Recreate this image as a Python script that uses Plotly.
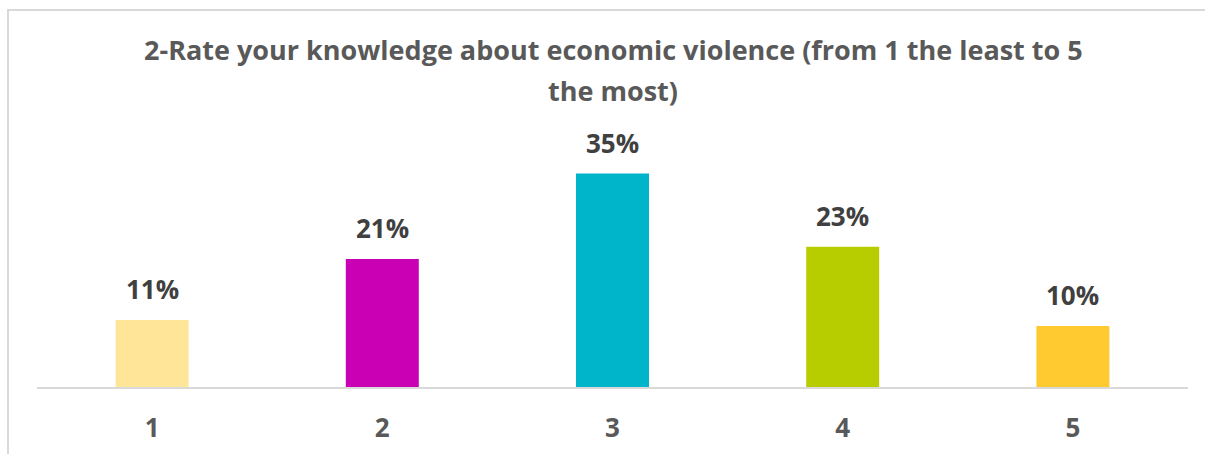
import plotly.graph_objects as go

categories = ["1", "2", "3", "4", "5"]
values = [11, 21, 35, 23, 10]
labels = ["11%", "21%", "35%", "23%", "10%"]
colors = ["#FFE598", "#C900B4", "#00B4CA", "#B7CD00", "#FFCA2F"]
title_lines = ["2-Rate your knowledge about economic violence (from 1 the least to 5", "the most)"]

W, H = 1205, 454
ml, mr, mt, mb = 37, 17, 82, 67
pw, ph = W - ml - mr, H - mt - mb
FONT = "Open Sans"

def py(pix):
    """pixel y (from top) to paper y"""
    return (H - mb - pix) / ph

fig = go.Figure(go.Bar(x=categories, y=values, marker=dict(color=colors, line=dict(width=0)),
                       width=0.317, hoverinfo="skip"))

for i, (v, t) in enumerate(zip(values, labels)):
    fig.add_annotation(x=i, y=v, text=f"<b>{t}</b>", showarrow=False, yanchor="bottom",
                       yshift=11, font=dict(family=FONT, size=26, color="#404040"))

for line, ypix in zip(title_lines, [50, 90]):
    fig.add_annotation(xref="paper", yref="paper", x=(613 - ml) / pw, y=py(ypix), yanchor="middle",
                       text=f"<b>{line}</b>", showarrow=False,
                       font=dict(family=FONT, size=27, color="#595959"))

# outer chart border
fig.add_shape(type="rect", xref="paper", yref="paper",
              x0=(8 - ml) / pw, x1=(W + 20 - ml) / pw,
              y0=py(H + 20), y1=py(10),
              line=dict(color="#D9D9D9", width=2), fillcolor="rgba(0,0,0,0)", layer="below")

fig.update_layout(
    width=W, height=H, margin=dict(l=ml, r=mr, t=mt, b=mb, autoexpand=False),
    plot_bgcolor="white", paper_bgcolor="white", showlegend=False,
    xaxis=dict(type="category", range=[-0.5, len(categories) - 0.5], showline=True,
               linecolor="#D9D9D9", linewidth=2, ticks="", showgrid=False, automargin=False,
               tickfont=dict(family=FONT, size=26, color="#595959", weight="bold"),
               ticklabelstandoff=17),
    yaxis=dict(range=[0, 50], visible=False, showgrid=False, zeroline=False, automargin=False),
)

fig.write_html("out.html", config={"displayModeBar": False},
               post_script="document.body.style.margin='0';document.body.style.overflow='hidden';")
